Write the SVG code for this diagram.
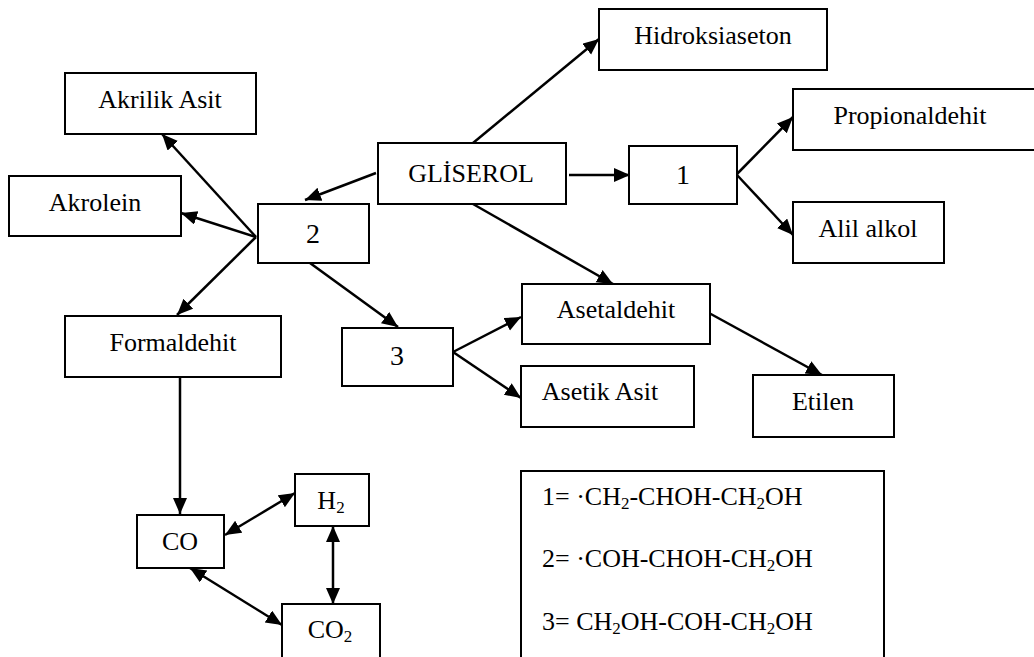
<svg xmlns="http://www.w3.org/2000/svg" width="1034" height="657" viewBox="0 0 1034 657">
<style>
rect{fill:#fff;stroke:#000;stroke-width:2}
text{font-family:"Liberation Serif","Times New Roman",serif;font-size:26px;fill:#000;text-anchor:middle}
.num{font-size:28px}
.leg{text-anchor:start}
.c line{stroke:#000;stroke-width:2.5;marker-end:url(#ah)}
.c line.bi{marker-start:url(#ah)}
</style>
<defs>
<marker id="ah" markerUnits="userSpaceOnUse" markerWidth="17" markerHeight="15" refX="16" refY="7" orient="auto-start-reverse">
<path d="M0,0 L16,7 L0,14 z" fill="#000"/>
</marker>
</defs>
<rect x="0" y="0" width="1034" height="657" style="stroke:none"/>
<g class="c">
<line x1="473" y1="143" x2="599" y2="39"/>
<line x1="376" y1="173" x2="305" y2="200"/>
<line x1="569" y1="175" x2="630" y2="175"/>
<line x1="473" y1="204" x2="613" y2="284"/>
<line x1="737" y1="174" x2="793" y2="117"/>
<line x1="737" y1="175" x2="793" y2="235"/>
<line x1="256" y1="237" x2="162" y2="134"/>
<line x1="256" y1="237" x2="181" y2="213"/>
<line x1="256" y1="237" x2="177" y2="315"/>
<line x1="310" y1="263" x2="398" y2="327"/>
<line x1="453" y1="352" x2="521" y2="317"/>
<line x1="453" y1="352" x2="521" y2="398"/>
<line x1="709" y1="313" x2="822" y2="375"/>
<line x1="180" y1="377" x2="180" y2="514"/>
<line class="bi" x1="225" y1="535" x2="295" y2="493"/>
<line class="bi" x1="333" y1="526" x2="333" y2="604"/>
<line class="bi" x1="190" y1="568" x2="282" y2="625"/>
</g>
<g id="gliserol"><rect x="378" y="143" width="188" height="61"/><text x="471" y="182">GLİSEROL</text></g>
<g id="hidroksiaseton"><rect x="599" y="9" width="228" height="61"/><text x="713" y="44">Hidroksiaseton</text></g>
<g id="n1"><rect x="629" y="146" width="108" height="58"/><text class="num" x="683" y="184">1</text></g>
<g id="propionaldehit"><rect x="793" y="89" width="250" height="61"/><text x="910" y="124">Propionaldehit</text></g>
<g id="alilalkol"><rect x="793" y="202" width="151" height="61"/><text x="868" y="237">Alil alkol</text></g>
<g id="akrilikasit"><rect x="65" y="73" width="191" height="61"/><text x="160" y="108">Akrilik Asit</text></g>
<g id="akrolein"><rect x="9" y="176" width="172" height="60"/><text x="95" y="211">Akrolein</text></g>
<g id="n2"><rect x="258" y="204" width="111" height="59"/><text class="num" x="313" y="243">2</text></g>
<g id="formaldehit"><rect x="65" y="316" width="216" height="61"/><text x="173" y="351">Formaldehit</text></g>
<g id="n3"><rect x="342" y="328" width="111" height="58"/><text class="num" x="397" y="365">3</text></g>
<g id="asetaldehit"><rect x="522" y="284" width="188" height="60"/><text x="616" y="318">Asetaldehit</text></g>
<g id="asetikasit"><rect x="521" y="366" width="173" height="61"/><text x="600" y="400">Asetik Asit</text></g>
<g id="etilen"><rect x="753" y="375" width="141" height="62"/><text x="823" y="410">Etilen</text></g>
<g id="co"><rect x="137" y="515" width="87" height="53"/><text x="180" y="550">CO</text></g>
<g id="h2"><rect x="295" y="474" width="74" height="52"/><text x="331" y="509">H<tspan font-size="17" dy="4">2</tspan></text></g>
<g id="co2"><rect x="282" y="604" width="98" height="60"/><text x="330" y="638">CO<tspan font-size="17" dy="4">2</tspan></text></g>
<g id="legend"><rect x="521" y="471" width="363" height="200"/>
<text class="leg" x="542" y="505">1= ·CH<tspan font-size="17" dy="4">2</tspan><tspan dy="-4">-CHOH-CH</tspan><tspan font-size="17" dy="4">2</tspan><tspan dy="-4">OH</tspan></text>
<text class="leg" x="542" y="567">2= ·COH-CHOH-CH<tspan font-size="17" dy="4">2</tspan><tspan dy="-4">OH</tspan></text>
<text class="leg" x="542" y="630">3= CH<tspan font-size="17" dy="4">2</tspan><tspan dy="-4">OH-COH-CH</tspan><tspan font-size="17" dy="4">2</tspan><tspan dy="-4">OH</tspan></text>
</g>
</svg>
